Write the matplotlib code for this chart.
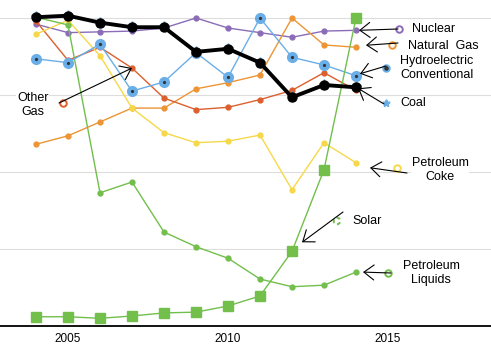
import matplotlib.pyplot as plt
import matplotlib.transforms as mtransforms

plt.rcParams['font.family'] = ['Liberation Sans', 'DejaVu Sans']

years = list(range(2004, 2015))

coal = [4.01, 4.03, 3.94, 3.88, 3.88, 3.56, 3.60, 3.42, 2.97, 3.13, 3.10]
nuclear = [3.92, 3.81, 3.82, 3.83, 3.87, 4.00, 3.87, 3.81, 3.75, 3.83, 3.84]
hydro = [3.47, 3.42, 3.66, 3.05, 3.17, 3.55, 3.23, 4.00, 3.49, 3.39, 3.25]
natural_gas = [2.36, 2.47, 2.65, 2.83, 2.83, 3.08, 3.16, 3.26, 4.00, 3.65, 3.62]
other_gas = [3.96, 3.45, 3.62, 3.35, 2.96, 2.81, 2.84, 2.94, 3.06, 3.29, 3.06]
pet_coke = [3.79, 3.97, 3.51, 2.83, 2.51, 2.38, 2.40, 2.48, 1.77, 2.38, 2.12]
pet_liquids = [4.01, 3.91, 1.73, 1.87, 1.22, 1.03, 0.88, 0.61, 0.51, 0.53, 0.70]
solar = [0.12, 0.12, 0.10, 0.13, 0.17, 0.18, 0.26, 0.39, 0.97, 2.03, 4.00]

c_purple = '#8a6cb8'
c_blue = '#6aaee8'
c_orange = '#ec9535'
c_red = '#dc5f2e'
c_yellow = '#f6d84a'
c_green = '#72bf4c'

fig = plt.figure(figsize=(4.91, 3.52), dpi=100)
ax = fig.add_axes([0, 26 / 352, 1, 326 / 352])
ax.set_xlim(2002.875, 2002.875 + 491 / 32)
ax.set_ylim(0, 326 / 77)

for v in [1, 2, 3, 4]:
    ax.axhline(v, color='#dddddd', lw=0.8, zorder=0)

ax.plot(years, nuclear, color=c_purple, lw=1, marker='o', ms=3.5, zorder=3)
ax.plot(years, natural_gas, color=c_orange, lw=1, marker='o', ms=3.5, zorder=3)
ax.plot(years, other_gas, color=c_red, lw=1, marker='o', ms=3.5, zorder=3)
ax.plot(years, pet_coke, color=c_yellow, lw=1, marker='o', ms=3.5, zorder=3)
ax.plot(years, pet_liquids, color=c_green, lw=1, marker='o', ms=3.5, zorder=3)
ax.plot(years, hydro, color=c_blue, lw=1, marker='o', ms=7, zorder=3)
ax.plot(years, hydro, ls='none', marker='o', ms=1.3, color='#333333', zorder=3)
ax.plot(years, solar, color=c_green, lw=1, marker='s', ms=6.5, zorder=4)
ax.plot(years, coal, ls='none', marker='*', ms=8, color=c_blue, zorder=4)
ax.plot(years, coal, color='black', lw=2.8, marker='o', ms=6.5, zorder=5)

for s in ['top', 'left', 'right']:
    ax.spines[s].set_visible(False)
ax.spines['bottom'].set_linewidth(1.3)
ax.set_yticks([])
ax.set_xticks([2005, 2010, 2015])
ax.tick_params(axis='x', length=0, labelsize=8.5, pad=5)


def px(x, y):
    # pixel position in the picture -> data coordinates
    return 2002.875 + x / 32, (326 - y) / 77


def label(text, pos, marker_pos, color, target, off, marker='o',
          face='white', ha='left', ls='solid'):
    ax.text(*px(*pos), text, fontsize=9, ha=ha, va='center',
            multialignment='center', zorder=6,
            bbox=dict(fc='white', ec='none', pad=0.5))
    mx, my = px(*marker_pos)
    ax.scatter([mx], [my], s=22, marker=marker, facecolors=face,
               edgecolors=color, linewidths=1.4, linestyle=ls, zorder=7)
    tr = mtransforms.offset_copy(ax.transData, fig, x=off[0], y=off[1],
                                 units='dots')
    ax.annotate('', xy=target, xycoords=tr,
                xytext=px(marker_pos[0] - 4, marker_pos[1]),
                arrowprops=dict(arrowstyle='->, head_length=0.6, head_width=0.45',
                                color='black', lw=0.8, mutation_scale=12,
                                shrinkA=0, shrinkB=0),
                zorder=7)


last = len(years) - 1
label('Nuclear', (412, 29), (399, 29), c_purple,
      (years[last], nuclear[last]), (3, 0))
label('Natural  Gas', (408, 46), (392, 45), c_orange,
      (years[last], natural_gas[last]), (10, 2))
label('Hydroelectric\nConventional', (400, 68), (386, 68), c_blue,
      (years[last], hydro[last]), (4, 2), face='#333333')
label('Coal', (400, 103), (386, 103), c_blue,
      (years[last], coal[last]), (2, -1), marker='*', face=c_blue)
label('Other\nGas', (33, 105), (63, 103), c_red,
      (years[3], other_gas[3]), (0, 0), ha='center')
label('Petroleum\nCoke', (440, 170), (397, 168), c_yellow,
      (years[last], pet_coke[last]), (14, -5), ha='center')
label('Solar', (352, 221), (337, 221), c_green,
      (years[8], solar[8]), (10, 9), ls=(0, (2, 1.5)))
label('Petroleum\nLiquids', (431, 273), (388, 273), c_green,
      (years[last], pet_liquids[last]), (7, 0), ha='center')

fig.savefig('out.png', dpi=100)
